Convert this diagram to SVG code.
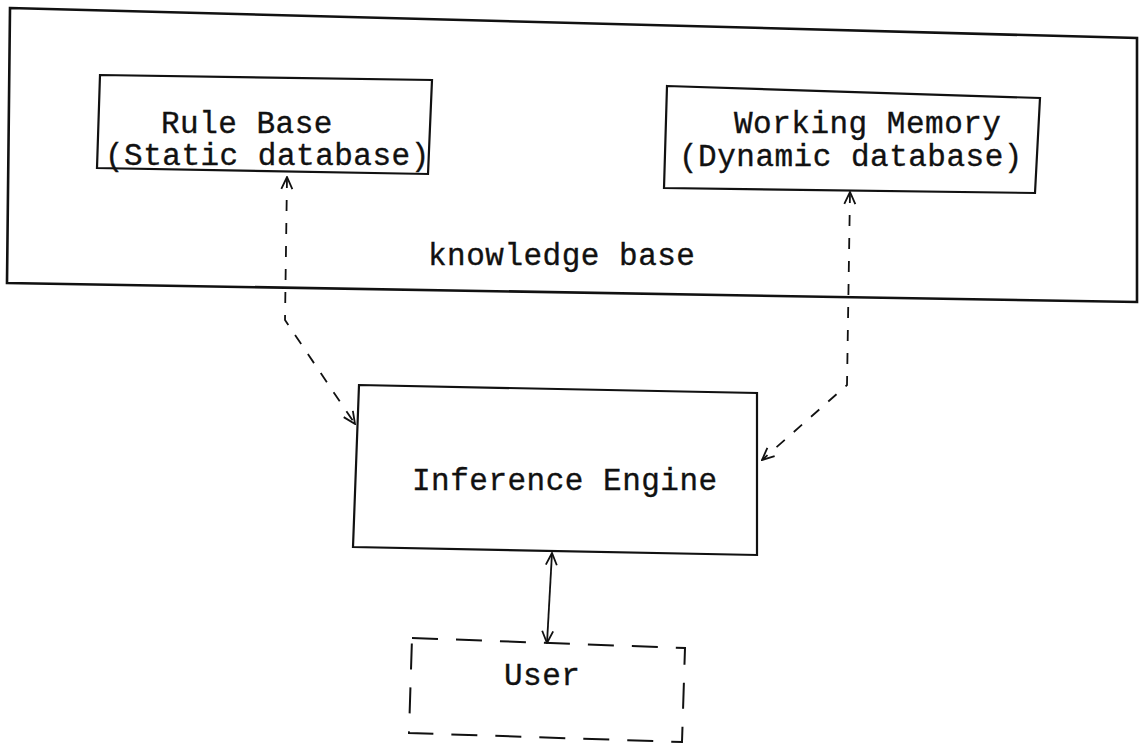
<svg xmlns="http://www.w3.org/2000/svg" width="1140" height="745" viewBox="0 0 1140 745">
  <style>
    .box { fill: none; stroke: #111; stroke-width: 2.2; stroke-linejoin: miter; }
    .outer { fill: none; stroke: #111; stroke-width: 2.6; }
    .dashbox { fill: none; stroke: #111; stroke-width: 2; stroke-dasharray: 26 18; }
    .label { font-family: "Liberation Mono", "Courier New", monospace; font-size: 31px; letter-spacing: 0.5px; fill: #111; stroke: #111; stroke-width: 0.35; }
    .link { fill: none; stroke: #111; stroke-width: 1.8; stroke-dasharray: 11 12; }
    .solid { fill: none; stroke: #111; stroke-width: 1.8; }
  </style>
  <defs>
    <marker id="open-arrow" viewBox="0 0 14 14" refX="13" refY="7" markerWidth="14" markerHeight="14" markerUnits="userSpaceOnUse" orient="auto-start-reverse">
      <path d="M1,1.5 L13,7 L1,12.5" fill="none" stroke="#111" stroke-width="1.8" stroke-dasharray="none"/>
    </marker>
  </defs>
  <rect width="1140" height="745" fill="#fff"/>

  <!-- knowledge base container -->
  <g id="knowledge-base">
    <polygon class="outer" points="10,8 1137,38 1137,302 7,283"/>
    <text class="label" x="428" y="265">knowledge base</text>
  </g>

  <g id="rule-base">
    <polygon class="box" points="100,75 432,80 428,174 97,168"/>
    <text class="label" x="161" y="133">Rule Base</text>
    <text class="label" x="105" y="165">(Static database)</text>
  </g>

  <g id="working-memory">
    <polygon class="box" points="667,86 1040,98 1035,193 664,188"/>
    <text class="label" x="734" y="133">Working Memory</text>
    <text class="label" x="679" y="166">(Dynamic database)</text>
  </g>

  <g id="inference-engine">
    <polygon class="box" points="359,385 757,393 757,555 353,547"/>
    <text class="label" x="412" y="490">Inference Engine</text>
  </g>

  <g id="user">
    <polygon class="dashbox" points="412,638 685,648 682,742 409,733"/>
    <text class="label" x="504" y="685">User</text>
  </g>

  <!-- connectors -->
  <g id="connectors">
    <path class="link" d="M287,177 L285,320 L355,424" marker-start="url(#open-arrow)" marker-end="url(#open-arrow)"/>
    <path class="link" d="M850,192 L847,385 L762,460" marker-start="url(#open-arrow)" marker-end="url(#open-arrow)"/>
    <path class="solid" d="M552,553 L547,643" marker-start="url(#open-arrow)" marker-end="url(#open-arrow)"/>
  </g>
</svg>
